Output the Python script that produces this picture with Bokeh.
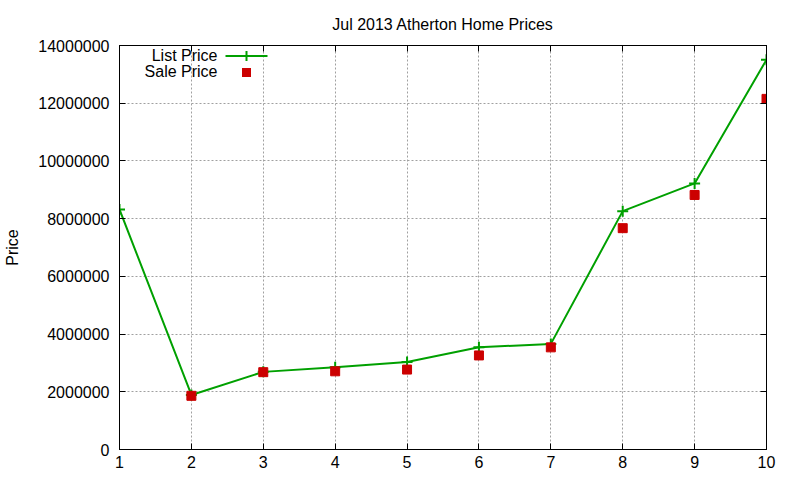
import math
from bokeh.plotting import figure
from bokeh.models import (FixedTicker, BasicTickFormatter, LinearAxis, Label,
                          BoxAnnotation, Range1d, Title)
from bokeh.embed import file_html
from bokeh.resources import INLINE

title_text = "Jul 2013 Atherton Home Prices"
y_label = "Price"
x_vals = [1, 2, 3, 4, 5, 6, 7, 8, 9, 10]
list_price = [8320000, 1890000, 2690000, 2850000, 3030000, 3540000, 3660000,
              8260000, 9220000, 13510000]
sale_price = [math.nan, 1860000, 2680000, 2710000, 2770000, 3260000, 3540000,
              7670000, 8820000, 12150000]
x_ticks = [1, 2, 3, 4, 5, 6, 7, 8, 9, 10]
y_ticks = [0, 2000000, 4000000, 6000000, 8000000, 10000000, 12000000, 14000000]
series_names = ["List Price", "Sale Price"]

GREEN = "#00a000"
RED = "#cc0000"
FONT = "Liberation Sans"

p = figure(width=800, height=480, output_backend="svg", toolbar_location=None,
           x_range=Range1d(1, 10), y_range=Range1d(0, 14000000),
           min_border_left=119, min_border_right=34, min_border_top=45,
           min_border_bottom=31, x_axis_location=None, y_axis_location=None)
p.outline_line_color = "black"
p.outline_line_width = 1
p.background_fill_color = "white"
p.border_fill_color = "white"

def style_axis(ax, ticks, show_labels):
    ax.ticker = FixedTicker(ticks=ticks)
    ax.axis_line_color = "black"
    ax.major_tick_in = 6
    ax.major_tick_out = 0
    ax.minor_tick_in = 0
    ax.minor_tick_out = 0
    ax.major_tick_line_color = "black"
    ax.major_label_text_font = FONT
    ax.major_label_text_font_size = "16px"
    ax.major_label_text_color = "black"
    if not show_labels:
        ax.major_label_overrides = {t: "" for t in ticks}
        ax.major_label_standoff = 0

xb = LinearAxis()
style_axis(xb, x_ticks, True)
xb.major_label_standoff = 6
p.add_layout(xb, "below")

yl = LinearAxis(formatter=BasicTickFormatter(use_scientific=False))
style_axis(yl, y_ticks, True)
yl.major_label_standoff = 10
yl.axis_label = y_label
yl.axis_label_text_font = FONT
yl.axis_label_text_font_size = "16px"
yl.axis_label_text_font_style = "normal"
yl.axis_label_text_color = "black"
yl.axis_label_standoff = 14
p.add_layout(yl, "left")

yr = LinearAxis()
style_axis(yr, y_ticks, False)
p.add_layout(yr, "right")

xt = LinearAxis()
style_axis(xt, x_ticks, False)
p.add_layout(xt, "above")

p.title = Title(text=title_text, align="center", text_font=FONT,
                text_font_size="16px", text_font_style="normal",
                text_color="black", standoff=26)

p.xgrid.ticker = FixedTicker(ticks=x_ticks)
p.ygrid.ticker = FixedTicker(ticks=y_ticks)
for g in (p.xgrid, p.ygrid):
    g.grid_line_color = "#a0a0a0"
    g.grid_line_dash = "2 2"
    g.grid_line_width = 1

p.line(x_vals, list_price, line_color=GREEN, line_width=2)
p.scatter(x_vals, list_price, marker="cross", size=11, line_color=GREEN,
          line_width=2)
p.scatter(x_vals, sale_price, marker="square", size=9, fill_color=RED,
          line_color=RED)

# gnuplot-style key (label left of sample), in screen units inside the frame
p.add_layout(Label(x=98, y=394, x_units="screen", y_units="screen",
                   text=series_names[0], text_align="right",
                   text_baseline="middle", text_font=FONT,
                   text_font_size="16px", text_color="black"))
p.add_layout(Label(x=98, y=378, x_units="screen", y_units="screen",
                   text=series_names[1], text_align="right",
                   text_baseline="middle", text_font=FONT,
                   text_font_size="16px", text_color="black"))
p.add_layout(BoxAnnotation(left=106, right=148, bottom=392.5, top=394.5,
                           left_units="screen", right_units="screen",
                           bottom_units="screen", top_units="screen",
                           fill_color=GREEN, fill_alpha=1, line_alpha=0))
p.add_layout(BoxAnnotation(left=126, right=128, bottom=388.5, top=398.5,
                           left_units="screen", right_units="screen",
                           bottom_units="screen", top_units="screen",
                           fill_color=GREEN, fill_alpha=1, line_alpha=0))
p.add_layout(BoxAnnotation(left=122.5, right=131.5, bottom=372.5, top=381.5,
                           left_units="screen", right_units="screen",
                           bottom_units="screen", top_units="screen",
                           fill_color=RED, fill_alpha=1, line_alpha=0))

open("out.html", "w").write(file_html(p, INLINE))
